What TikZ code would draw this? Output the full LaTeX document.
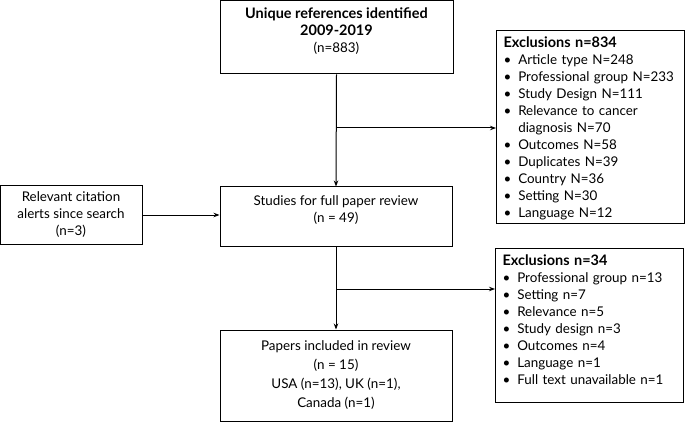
\documentclass[tikz,border=0pt]{standalone}
\usepackage{fontspec}
\setmainfont{Lato}[BoldFeatures={Scale=1.08}]
\usetikzlibrary{arrows.meta}
\tikzset{
  box/.style={draw, line width=1pt, align=center, inner sep=0pt},
  exclbox/.style={draw, line width=1pt, anchor=north west, text width=174pt,
    inner xsep=7pt, inner ysep=0pt, align=left},
}
\begin{document}
\begin{tikzpicture}[x=1pt, y=1pt, >={Stealth[length=6pt,width=4.5pt]},
    font=\fontsize{13.4}{17}\selectfont]
    \useasboundingbox (0,0) rectangle (685,-422);
    % Boites principales
    \node[box, minimum width=233pt, minimum height=73pt] (refs) at (336.5,-37.5)
        {\textbf{Unique references identified}\\ \textbf{2009-2019}\\ (n=883)\rule[-14pt]{0pt}{0pt}};
    \node[box, minimum width=232pt, minimum height=59pt] (studies) at (336,-216.5)
        {Studies for full paper review\\ (n = 49)\rule[-15pt]{0pt}{0pt}};
    \node[box, minimum width=142pt, minimum height=58pt] (alerts) at (71,-215)
        {Relevant citation\\ alerts since search\\ (n=3)\rule[-3pt]{0pt}{0pt}};
    \node[box, minimum width=232pt, minimum height=91pt] (papers) at (336,-375.5)
        {Papers included in review\\[2pt] (n = 15)\\[2pt] USA (n=13), UK (n=1),\\[2pt] Canada (n=1)};
    % Exclusions
    \node[exclbox, minimum height=193pt] (excl1) at (496,-30)
        {\begin{tabular}{@{}c@{\hspace{7pt}}l@{}}
         \multicolumn{2}{@{}l}{\textbf{Exclusions n=834}\rule{0pt}{17pt}}\\
         \textbullet & Article type N=248\\
         \textbullet & Professional group N=233\\
         \textbullet & Study Design N=111\\
         \textbullet & Relevance to cancer\\
                     & diagnosis N=70\\
         \textbullet & Outcomes N=58\\
         \textbullet & Duplicates N=39\\
         \textbullet & Country N=36\\
         \textbullet & Setting N=30\\
         \textbullet & Language N=12
         \end{tabular}};
    \node[exclbox, minimum height=154pt] (excl2) at (495,-248)
        {\begin{tabular}{@{}c@{\hspace{7pt}}l@{}}
         \multicolumn{2}{@{}l}{\textbf{Exclusions n=34}}\\
         \textbullet & Professional group n=13\\
         \textbullet & Setting n=7\\
         \textbullet & Relevance n=5\\
         \textbullet & Study design n=3\\
         \textbullet & Outcomes n=4\\
         \textbullet & Language n=1\\
         \textbullet & Full text unavailable n=1\rule[-12pt]{0pt}{0pt}
         \end{tabular}};
    % Embranchements
    \coordinate (split1) at (336.5,-128);
    \coordinate (split2) at (336,-289);
    % Fleches
    \draw[->, line width=1pt] (refs.south) -- (studies.north);
    \draw[->, line width=1pt] (split1) -- (split1 -| excl1.west);
    \draw[->, line width=1pt] (alerts.east) -- (alerts.east -| studies.west);
    \draw[->, line width=1pt] (studies.south) -- (papers.north);
    \draw[->, line width=1pt] (split2) -- (split2 -| excl2.west);
\end{tikzpicture}
\end{document}
